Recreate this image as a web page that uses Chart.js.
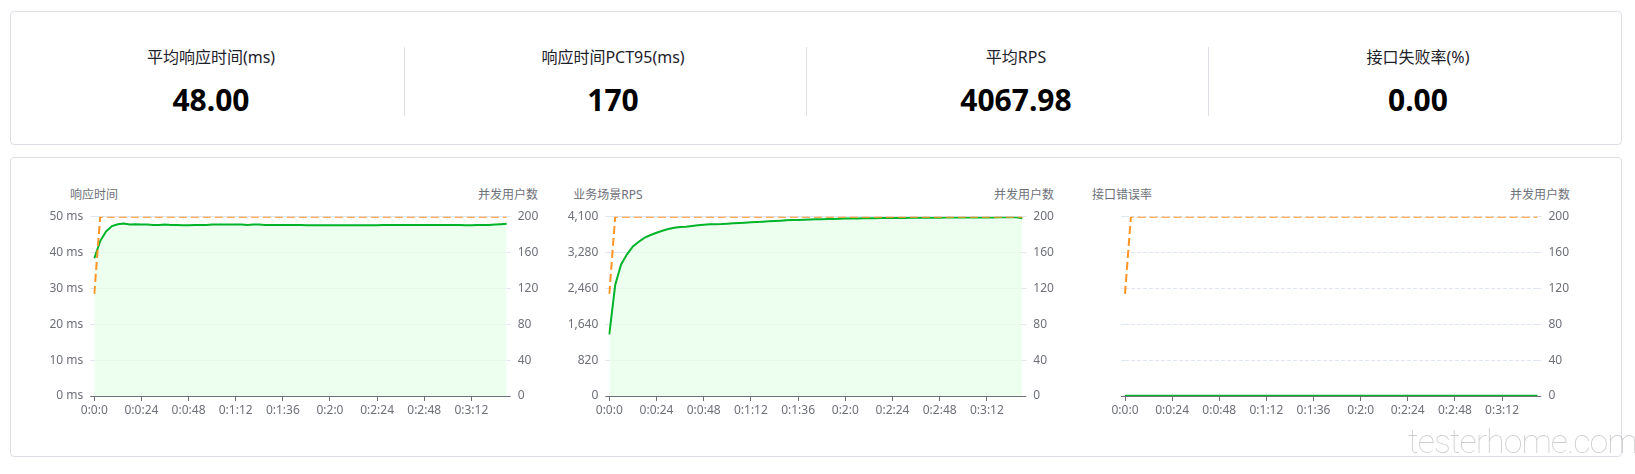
<!DOCTYPE html>
<html>
<head>
<meta charset="utf-8">
<script src="https://cdn.jsdelivr.net/npm/chart.js@4.4.1/dist/chart.umd.min.js"></script>
<style>
  html, body { margin: 0; padding: 0; background: #fff; }
  body {
    width: 1635px; height: 474px; position: relative; overflow: hidden;
    font-family: "Noto Sans", "Noto Sans CJK SC", sans-serif;
  }
  .card { position: absolute; box-sizing: border-box; border: 1px solid #dcdfe6; border-radius: 4px; background: #fff; }
  .stat-title, .stat-value { position: absolute; width: 300px; margin-left: -150px; text-align: center; white-space: nowrap; }
  .stat-title { top: 47px; font-size: 16px; line-height: 20px; color: #1d2129; }
  .stat-value { top: 85px; font-size: 30px; line-height: 30px; font-weight: 700; color: #000; }
  .divider { position: absolute; top: 47px; width: 1px; height: 69px; background: #dcdfe6; }
  .axis-name { position: absolute; top: 187px; font-size: 12px; line-height: 16px; color: #6e7079; transform: translateX(-50%); white-space: nowrap; }
  .plot { position: absolute; }
  .watermark {
    position: absolute; left: 1408px; top: 422px; font-family: Roboto, sans-serif; font-weight: 100;
    font-size: 34px; line-height: 38px; letter-spacing: -1px; color: rgba(0,0,0,0.2); white-space: nowrap; pointer-events: none;
  }
</style>
</head>
<body>

<div class="card" style="left:10px; top:11px; width:1612px; height:134px;"></div>
<div class="card" style="left:10px; top:157px; width:1612px; height:300px;"></div>

<div id="stats"></div>

<div class="axis-name" style="left:94px;">响应时间</div>
<div class="axis-name" style="left:508px;">并发用户数</div>
<div class="axis-name" style="left:608px;">业务场景RPS</div>
<div class="axis-name" style="left:1024px;">并发用户数</div>
<div class="axis-name" style="left:1122px;">接口错误率</div>
<div class="axis-name" style="left:1540px;">并发用户数</div>

<div class="plot" style="left:30px; top:200px; width:530px; height:230px;"><canvas id="rtChart"></canvas></div>
<div class="plot" style="left:560px; top:200px; width:510px; height:230px;"><canvas id="rpsChart"></canvas></div>
<div class="plot" style="left:1070px; top:200px; width:540px; height:230px;"><canvas id="errChart"></canvas></div>

<div class="watermark">testerhome.com</div>

<script>
// Summary figures shown in the top card
const statTitles = ['平均响应时间(ms)', '响应时间PCT95(ms)', '平均RPS', '接口失败率(%)'];
const statValues = ['48.00', '170', '4067.98', '0.00'];

// Sampling: one point every 3 seconds, 0:0:0 .. 0:3:30
const stepSeconds = 3;
const pointCount = 71;
const labelEvery = 8; // a tick label every 24 s
const categories = Array.from({ length: pointCount }, (_, i) => {
  const s = i * stepSeconds;
  return Math.floor(s / 3600) + ':' + Math.floor((s % 3600) / 60) + ':' + (s % 60);
});

// Response time (ms)
const responseTimeMs = [
  38.4, 43.2, 45.9, 47.4, 47.9, 48.1, 47.8, 47.9, 47.8, 47.8,
  47.7, 47.7, 47.8, 47.7, 47.7, 47.6, 47.6, 47.7, 47.7, 47.7,
  47.8, 47.8, 47.8, 47.8, 47.8, 47.8, 47.7, 47.8, 47.8, 47.7,
  47.7, 47.7, 47.7, 47.7, 47.7, 47.7, 47.6, 47.6, 47.6, 47.6,
  47.6, 47.6, 47.6, 47.6, 47.6, 47.6, 47.6, 47.6, 47.6, 47.7,
  47.7, 47.7, 47.7, 47.7, 47.7, 47.7, 47.7, 47.7, 47.7, 47.7,
  47.7, 47.7, 47.7, 47.6, 47.6, 47.7, 47.7, 47.7, 47.8, 47.9,
  48.0
];

// Scenario RPS
const scenarioRps = [
  1410, 2538, 3010, 3239, 3420, 3528, 3620, 3681, 3734, 3780,
  3818, 3848, 3864, 3871, 3887, 3902, 3917, 3925, 3929, 3933,
  3940, 3948, 3956, 3963, 3971, 3979, 3986, 3994, 4001, 4009,
  4016, 4024, 4026, 4031, 4034, 4039, 4041, 4046, 4049, 4054,
  4056, 4059, 4061, 4063, 4065, 4067, 4068, 4069, 4071, 4072,
  4073, 4074, 4075, 4076, 4077, 4077, 4078, 4079, 4080, 4080,
  4081, 4082, 4083, 4083, 4084, 4084, 4085, 4085, 4086, 4086,
  4063
];

// Interface error rate
const errorRate = [
  0, 0, 0, 0, 0, 0, 0, 0, 0, 0,
  0, 0, 0, 0, 0, 0, 0, 0, 0, 0,
  0, 0, 0, 0, 0, 0, 0, 0, 0, 0,
  0, 0, 0, 0, 0, 0, 0, 0, 0, 0,
  0, 0, 0, 0, 0, 0, 0, 0, 0, 0,
  0, 0, 0, 0, 0, 0, 0, 0, 0, 0,
  0, 0, 0, 0, 0, 0, 0, 0, 0, 0,
  0
];

// Concurrent users
const concurrentUsers = [
  114, 200, 200, 200, 200, 200, 200, 200, 200, 200,
  200, 200, 200, 200, 200, 200, 200, 200, 200, 200,
  200, 200, 200, 200, 200, 200, 200, 200, 200, 200,
  200, 200, 200, 200, 200, 200, 200, 200, 200, 200,
  200, 200, 200, 200, 200, 200, 200, 200, 200, 200,
  200, 200, 200, 200, 200, 200, 200, 200, 200, 200,
  200, 200, 200, 200, 200, 200, 200, 200, 200, 200,
  200
];

// Axis ticks
const rtTicks = { min: 0, max: 50, step: 10 };
const rpsTicks = { min: 0, max: 4100, step: 820 };
const userTicks = { min: 0, max: 200, step: 40 };

// ---- top summary card ----
const statCenters = [211, 613, 1016, 1418];
const statsEl = document.getElementById('stats');
statTitles.forEach((t, i) => {
  const title = document.createElement('div');
  title.className = 'stat-title';
  title.style.left = statCenters[i] + 'px';
  title.textContent = t;
  const value = document.createElement('div');
  value.className = 'stat-value';
  value.style.left = statCenters[i] + 'px';
  value.textContent = statValues[i];
  statsEl.appendChild(title);
  statsEl.appendChild(value);
});
[404, 806, 1208].forEach(x => {
  const d = document.createElement('div');
  d.className = 'divider';
  d.style.left = x + 'px';
  statsEl.appendChild(d);
});

// ---- trend charts ----
const AXIS = '#6e7079';
const GRID = '#e0e6f1';
const GREEN = '#00b42a';
const ORANGE = '#ff9424';

Chart.defaults.font.family = '"Noto Sans", "Noto Sans CJK SC", sans-serif';
Chart.defaults.font.size = 12;
Chart.defaults.color = AXIS;

function makeChart(canvasId, opts) {
  const leftW = opts.plotLeft - opts.boxLeft;
  const rightW = opts.boxLeft + opts.boxWidth - opts.plotRight;
  const padTop = opts.plotTop - opts.boxTop;
  const xH = opts.boxTop + opts.boxHeight - opts.plotBottom;
  const tickColor = ctx => (ctx.tick && ctx.tick.value === 0 ? AXIS : GRID);

  return new Chart(document.getElementById(canvasId), {
    type: 'line',
    data: {
      labels: categories,
      datasets: [
        {
          data: concurrentUsers,
          yAxisID: 'y1',
          borderColor: ORANGE,
          borderWidth: 2,
          borderDash: [8, 4],
          pointRadius: 0,
          fill: false,
          tension: 0,
          order: 0
        },
        {
          data: opts.values,
          yAxisID: 'y',
          borderColor: GREEN,
          borderWidth: opts.lineWidth || 2,
          backgroundColor: 'rgba(232, 255, 234, 0.78)',
          pointRadius: 0,
          fill: opts.fill ? 'origin' : false,
          tension: 0,
          order: 1
        }
      ]
    },
    options: {
      responsive: true,
      maintainAspectRatio: false,
      animation: false,
      events: [],
      layout: { padding: { top: padTop, left: 0, right: 0, bottom: 0 } },
      plugins: { legend: { display: false }, tooltip: { enabled: false } },
      scales: {
        x: {
          type: 'category',
          ticks: { autoSkip: false, maxRotation: 0, minRotation: 0, padding: 2, color: AXIS },
          grid: { drawOnChartArea: false, color: AXIS, tickLength: 5 },
          border: { display: true, color: AXIS, width: 1 },
          afterBuildTicks: s => { s.ticks = s.ticks.filter(t => t.value % labelEvery === 0); },
          afterFit: s => { s.height = xH; }
        },
        y: {
          position: 'left',
          min: opts.yTicks.min,
          max: opts.yTicks.max,
          ticks: {
            stepSize: opts.yTicks.step,
            padding: 7,
            color: AXIS,
            callback: opts.yLabel
          },
          grid: { color: GRID, tickLength: 4, tickColor: tickColor, drawOnChartArea: true },
          border: { display: false, dash: opts.dashedGrid ? [4, 2] : [] },
          afterFit: s => { s.width = leftW; }
        },
        y1: {
          position: 'right',
          min: userTicks.min,
          max: userTicks.max,
          ticks: { stepSize: userTicks.step, padding: 7, color: AXIS },
          grid: { color: GRID, tickLength: 4, tickColor: tickColor, drawOnChartArea: false,
                  tickBorderDash: opts.dashedGrid ? [4, 2] : [] },
          border: { display: false },
          afterFit: s => { s.width = rightW; }
        }
      }
    }
  });
}

makeChart('rtChart', {
  boxLeft: 30, boxTop: 200, boxWidth: 530, boxHeight: 230,
  plotLeft: 94.3, plotRight: 506.7, plotTop: 216.7, plotBottom: 396,
  values: responseTimeMs, yTicks: rtTicks, fill: true,
  yLabel: v => v + ' ms'
});

makeChart('rpsChart', {
  boxLeft: 560, boxTop: 200, boxWidth: 510, boxHeight: 230,
  plotLeft: 609.3, plotRight: 1022.3, plotTop: 216.7, plotBottom: 396,
  values: scenarioRps, yTicks: rpsTicks, fill: true,
  yLabel: v => Number(v).toLocaleString('en-US')
});

makeChart('errChart', {
  boxLeft: 1070, boxTop: 200, boxWidth: 540, boxHeight: 230,
  plotLeft: 1125, plotRight: 1537.4, plotTop: 216.7, plotBottom: 396,
  values: errorRate, yTicks: { min: 0, max: 5, step: 1 }, fill: false, lineWidth: 2.5,
  dashedGrid: true,
  yLabel: () => ''
});
</script>
</body>
</html>
